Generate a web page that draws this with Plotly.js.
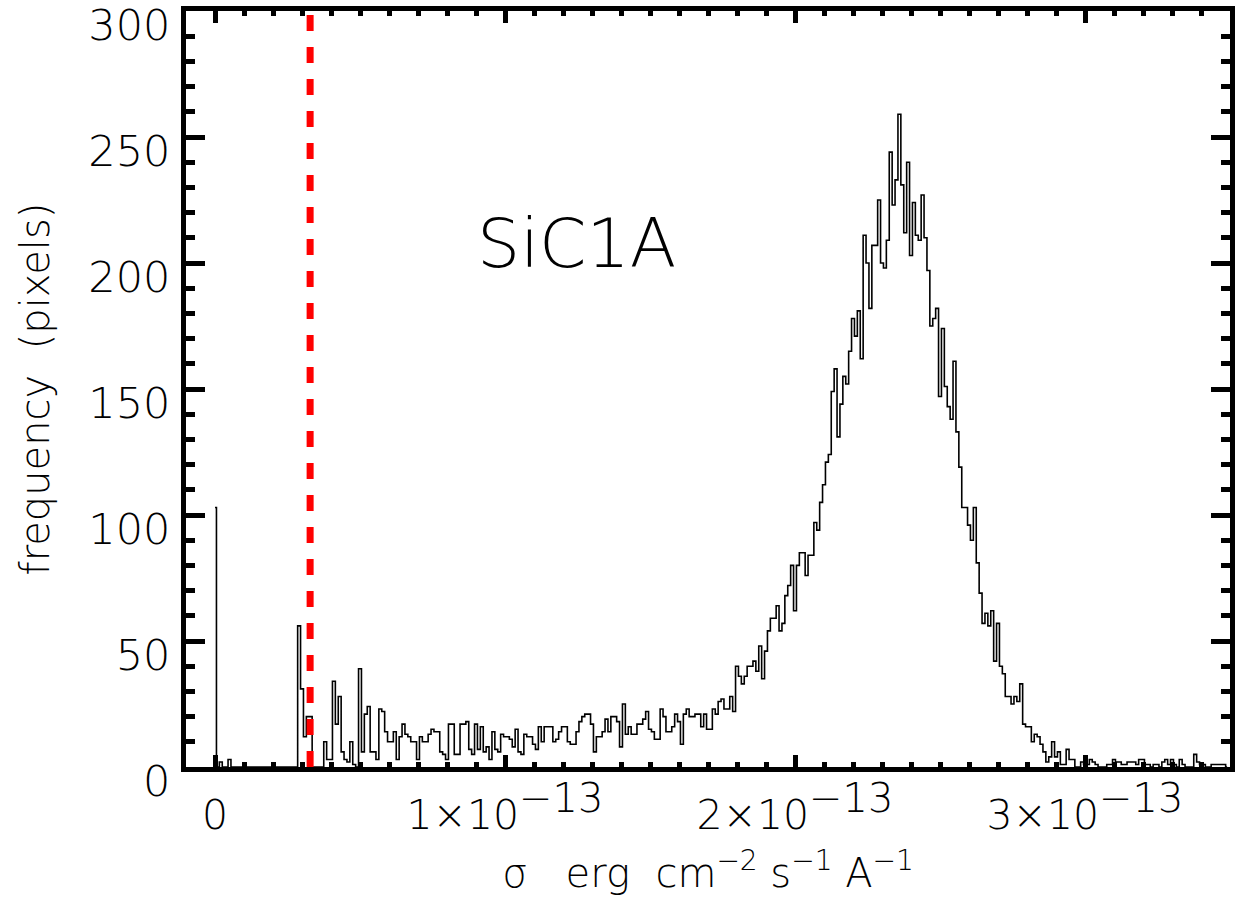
<!DOCTYPE html>
<html><head><meta charset="utf-8">
<script src="https://cdn.plot.ly/plotly-3.0.1.min.js"></script>
<style>html,body{margin:0;padding:0;background:#fff}#chart{width:1238px;height:903px}</style>
</head><body><div id="chart"></div>
<script>
// histogram bin width (erg cm^-2 s^-1 A^-1) and counts per bin, bin k centred at k*binWidth
const binWidth = 1e-15;
const counts = [
  103,0,2,0,0,3,0,0,0,0, 0,0,0,0,0,0,0,0,0,0,
  0,0,0,0,0,0,0,0,0,56, 31,12,20,20,0,0,0,0,10,3,
  3,34,17,28,6,3,2,10,1,0,
  39,6,21,24,6,6,3,23,22,14,
  10,10,14,3,12,17,13,12,10,10,
  3,12,10,10,13,15,14,14,6,5,
  3,17,17,5,5,17,17,18,7,5,
  17,7,16,6,8,3,14,7,6,13,
  12,12,11,8,15,6,5,13,12,12,
  9,7,16,10,16,16,16,10,11,14,
  16,16,10,9,9,14,18,20,21,21,
  17,6,12,12,14,19,14,20,20,18,
  8,25,13,16,13,13,17,17,19,22,
  15,14,11,11,23,20,14,14,16,21,
  18,9,21,23,20,20,21,21,16,21,
  15,15,23,21,26,27,23,23,28,22,
  40,36,33,36,40,40,42,38,48,35,
  46,54,59,59,64,54,57,68,72,80,
  62,80,85,85,76,84,84,97,94,105,
  112,121,124,149,158,131,144,155,152,165,
  178,171,181,162,211,200,182,207,207,225,
  200,198,209,244,223,233,259,231,212,240,
  203,224,211,209,227,210,197,175,178,182,
  147,174,151,143,138,161,133,119,103,103,
  96,90,103,81,69,57,61,56,62,42,
  57,40,37,28,28,25,28,26,33,17,
  16,16,10,13,12,9,6,2,4,10,
  4,6,1,1,7,3,3,0,0,2,
  1,1,3,2,1,0,0,0,1,1,
  3,2,2,1,1,2,2,2,1,3,
  3,1,1,0,1,1,0,2,3,1,
  3,1,0,3,1,0,0,0,5,2,
  1,1,0,0,1,1,1,1,1,0
];
const threshold = 3.28e-14;           // red dashed cut-off
const xTickVals = [0, 1e-13, 2e-13, 3e-13];
const xTickText = ['0',
  '1×10<sup><span style="font-size:40px">−13</span></sup>',
  '2×10<sup><span style="font-size:40px">−13</span></sup>',
  '3×10<sup><span style="font-size:40px">−13</span></sup>'];
const yTickVals = [0, 50, 100, 150, 200, 250, 300];
const xRange = [-1e-14, 3.5e-13];
const yRange = [0, 300];
const panelLabel = 'SiC1A';
const xTitle = 'σ\u00a0\u00a0\u00a0erg\u00a0 cm<sup>−2</sup>\u00a0s<sup>−1</sup>\u00a0A<sup>−1</sup>';
const yTitle = 'frequency\u00a0\u00a0(pixels)';

const binCenters = counts.map((_, i) => i * binWidth);
const FONT = 'DejaVu Sans';
const W = 300;

const traces = [
  {x: binCenters, y: counts, type: 'scatter', mode: 'lines',
   line: {shape: 'hvh', color: '#000', width: 1.6}, hoverinfo: 'skip'},
  {x: [threshold, threshold], y: yRange, type: 'scatter', mode: 'lines',
   line: {color: '#ff0000', width: 7, dash: '16px,16px'}, hoverinfo: 'skip'}
];

const layout = {
  width: 1238, height: 903,
  margin: {l: 186, r: 8, t: 11, b: 136},
  paper_bgcolor: '#fff', plot_bgcolor: '#fff',
  showlegend: false,
  font: {family: FONT, color: '#000', size: 40, weight: W},
  xaxis: {
    range: xRange, tickmode: 'array', tickvals: xTickVals, ticktext: xTickText,
    showgrid: false, zeroline: false,
    showline: true, linewidth: 5, linecolor: '#000', mirror: 'allticks',
    ticks: 'inside', ticklen: 12, tickwidth: 5, tickcolor: '#000',
    minor: {tickmode: 'linear', tick0: 0, dtick: 1e-14, ticks: 'inside', ticklen: 5, tickwidth: 5, tickcolor: '#000', showgrid: false},
    tickfont: {family: FONT, size: 41, color: '#000', weight: W},
    ticklabelstandoff: 8,
    title: {text: xTitle, font: {family: FONT, size: 40, color: '#000', weight: W}, standoff: 22},
    automargin: false
  },
  yaxis: {
    range: yRange, tickmode: 'array', tickvals: yTickVals,
    showgrid: false, zeroline: false,
    showline: true, linewidth: 5, linecolor: '#000', mirror: 'allticks',
    ticks: 'inside', ticklen: 19, tickwidth: 5, tickcolor: '#000',
    minor: {tickmode: 'linear', tick0: 0, dtick: 10, ticks: 'inside', ticklen: 9, tickwidth: 5, tickcolor: '#000', showgrid: false},
    tickfont: {family: FONT, size: 43, color: '#000', weight: W},
    ticklabelstandoff: 2,
    ticklabeloverflow: 'allow',
    ticklabelshift: 14,
    title: {text: yTitle, font: {family: FONT, size: 40, color: '#000', weight: W}, standoff: 28},
    automargin: false
  },
  annotations: [{
    text: panelLabel, xref: 'paper', yref: 'paper', x: 0.3745, y: 0.692,
    xanchor: 'center', yanchor: 'middle', showarrow: false,
    font: {family: FONT, size: 68, color: '#000', weight: W}
  }]
};

Plotly.newPlot('chart', traces, layout, {staticPlot: true, displayModeBar: false});
</script></body></html>
